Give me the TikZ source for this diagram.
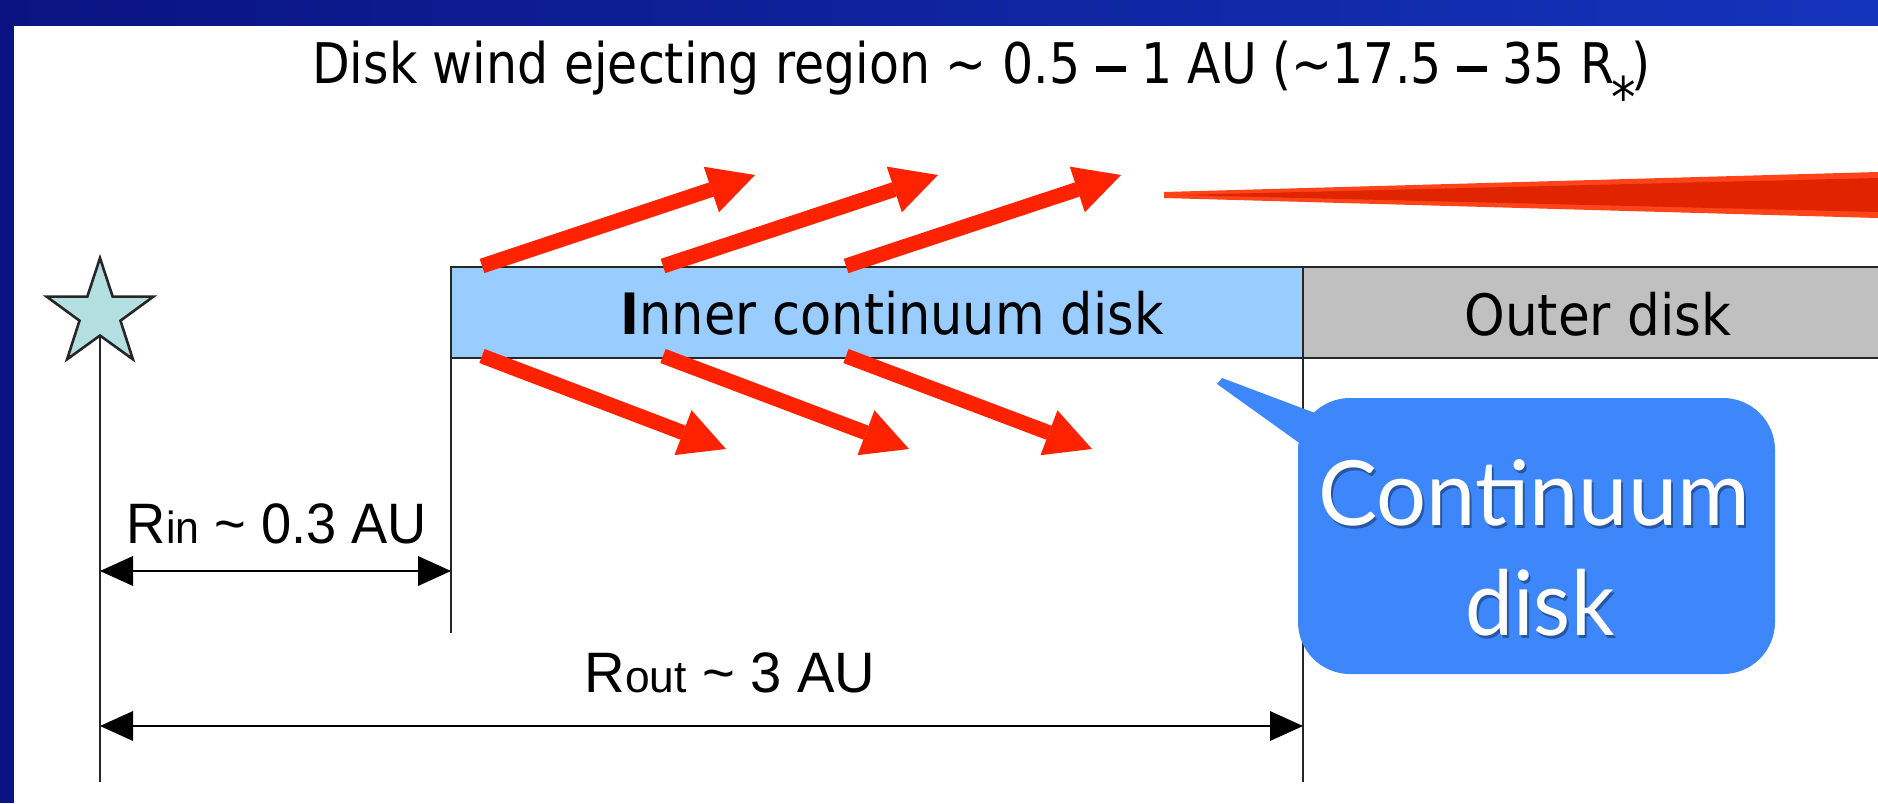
\documentclass[tikz,border=0pt]{standalone}
\usepackage{fontspec}
\usepackage{graphicx}
\usetikzlibrary{arrows.meta,shapes.geometric}

\newfontfamily\labelfont{DejaVu Sans}
\newfontfamily\dimfont{Liberation Sans}
\newfontfamily\bubblefont{Lato}

\definecolor{framedark}{HTML}{0A1381}
\definecolor{framelight}{HTML}{1434BC}
\definecolor{innerblue}{HTML}{99CCFF}
\definecolor{outergray}{HTML}{C0C0C0}
\definecolor{starfill}{HTML}{B4DFE0}
\definecolor{windred}{HTML}{FF2200}
\definecolor{wedgelight}{HTML}{FF4419}
\definecolor{wedgedark}{HTML}{E02400}
\definecolor{bubbleblue}{HTML}{3D87FB}

% long heavy dash used in the range of the heading
\newcommand{\rangedash}{\rule[11pt]{34pt}{6pt}}

\tikzset{
  diskbox/.style={draw=black!85, line width=2.5pt, inner sep=0pt, outer sep=0pt,
    minimum height=91pt, anchor=north west},
  guide/.style={draw=black!85, line width=2pt},
  dimline/.style={draw=black, line width=2.6pt,
    {Triangle[length=33pt,width=30pt,line width=0pt]}-{Triangle[length=33pt,width=30pt,line width=0pt]}},
  windarrow/.style={draw=windred, line width=15pt,
    -{Triangle[length=46pt,width=48pt,line width=0pt]}},
  bubble/.style={fill=bubbleblue, rounded corners=52pt, inner sep=0pt, outer sep=0pt,
    minimum width=477pt, minimum height=276pt},
  txt/.style={inner sep=0pt, anchor=base},
}

\begin{document}
\begin{tikzpicture}[x=1pt,y=-1pt]
\useasboundingbox (0,0) rectangle (1878,803);

% slide frame and white panel
\fill[framedark] (0,0) rectangle (1878,803);
\shade[left color=framedark, right color=framelight] (0,0) rectangle (1878,26);
\fill[white] (14,26) rectangle (1878,803);

% title
\node[txt, anchor=base west] (title) at (312,83)
  {\resizebox{1338pt}{\height}{\labelfont\fontsize{56pt}{60pt}\selectfont
   Disk wind ejecting region \textasciitilde{} 0.5 \rangedash{} 1 AU (\textasciitilde{}17.5 \rangedash{} 35 R\kern-4pt\raisebox{-34pt}{*}\kern-5pt)}};

% reference points
\coordinate (lb) at (100,782);
\coordinate (ib) at (451,633);
\coordinate (db) at (1303,782);
\coordinate (rinL) at (100,571);
\coordinate (rinR) at (451,571);
\coordinate (routL) at (100,726);
\coordinate (routR) at (1303,726);

% disk boxes
\node[diskbox, fill=innerblue, minimum width=852pt] (inner) at (451,267) {};
\node[diskbox, fill=outergray, minimum width=620pt] (outer) at (1303,267) {};
\node[txt] (innerlabel) at (892,334)
  {\resizebox{543pt}{\height}{\labelfont\fontsize{57pt}{60pt}\selectfont{\bfseries I}nner continuum disk}};
\node[txt] (outerlabel) at (1598,335)
  {\resizebox{267pt}{\height}{\labelfont\fontsize{57pt}{60pt}\selectfont Outer disk}};

% star and radial guide lines
\draw[guide] (100,314) -- (lb);
\draw[guide] (inner.south west) -- (ib);
\draw[guide] (inner.south east) -- (db);
\node[star, star points=5, star point ratio=2.6, minimum size=112pt, inner sep=0pt,
      fill=starfill, draw=black!85, line width=2.6pt] (star) at (100,314) {};

% dimension arrows
\draw[dimline] (rinL) -- (rinR);
\draw[dimline] (routL) -- (routR);
\node[txt] (rin) at (277,543)
  {\resizebox{300pt}{\height}{\dimfont\fontsize{57pt}{60pt}\selectfont
   R{\fontsize{45pt}{48pt}\selectfont in} \textasciitilde{} 0.3 AU}};
\node[txt] (rout) at (730,692)
  {\resizebox{291pt}{\height}{\dimfont\fontsize{57pt}{60pt}\selectfont
   R{\fontsize{45pt}{48pt}\selectfont out} \textasciitilde{} 3 AU}};

% wind arrows above and below the inner disk
\foreach \i/\xs/\xe in {1/482/755, 2/663/938, 3/846/1121} {
  \coordinate (up\i s) at (\xs,266);
  \coordinate (up\i e) at (\xe,175);
  \draw[windarrow] (up\i s) -- (up\i e);
}
\foreach \i/\xs/\xe in {1/482/726, 2/663/909, 3/846/1092} {
  \coordinate (dn\i s) at (\xs,356);
  \coordinate (dn\i e) at (\xe,449);
  \draw[windarrow] (dn\i s) -- (dn\i e);
}

% long red pointer wedge
\fill[wedgelight] (1164,192) -- (1878,172) -- (1878,218) -- (1164,198) -- cycle;
\fill[wedgedark] (1178,195) -- (1878,178) -- (1878,212) -- cycle;

% callout bubble with its pointer
\node[bubble] (callout) at (1536.5,536) {};
\coordinate (calltip) at (1220,381);
\fill[bubbleblue] ([shift={(2,-3)}]calltip) -- (1315,413) -- (1345,450) -- (1298,442)
  -- ([shift={(-3,3)}]calltip) -- cycle;
\foreach \nm/\px/\py/\w/\t in {c1/1534/525/432/Continuum, c2/1540/635/149/disk} {
  \node[txt, text=black, opacity=0.35] (\nm shadow) at (\px+2,\py+3)
    {\resizebox{\w pt}{\height}{\bubblefont\fontsize{90pt}{110pt}\selectfont \t}};
  \node[txt, text=white] (\nm) at (\px,\py)
    {\resizebox{\w pt}{\height}{\bubblefont\fontsize{90pt}{110pt}\selectfont \t}};
}
\end{tikzpicture}
\end{document}
